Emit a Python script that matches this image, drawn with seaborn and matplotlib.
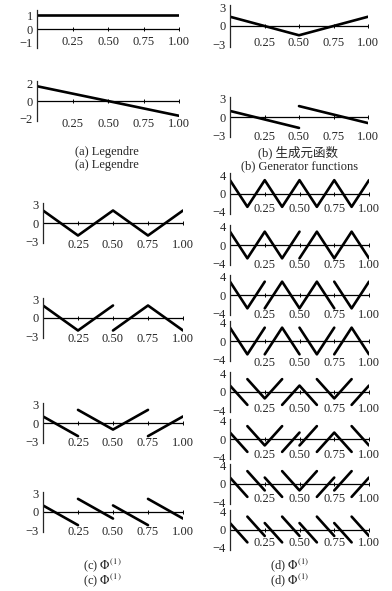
import matplotlib.pyplot as plt
import numpy as np
import pandas as pd
import seaborn as sns

sns.set_style('white')
plt.rcParams['font.family'] = ['Liberation Serif', 'Noto Sans CJK SC', 'DejaVu Sans']
plt.rcParams['mathtext.fontset'] = 'stix'
plt.rcParams['font.size'] = 9

nan = np.nan

# x tick labels shared by all panels
x_ticks = [0.25, 0.50, 0.75, 1.00]
x_ticklabels = ['0.25', '0.50', '0.75', '1.00']

# (a) Legendre
a1_x = [0, 1]
a1_y = [1, 1]
a2_x = [0, 1]
a2_y = [1.7, -1.7]

# (b) generator functions
b1_x = [0, 0.5, 1]
b1_y = [1.5, -1.5, 1.5]
b2_x = [0, 0.5, nan, 0.5, 1]
b2_y = [1.0, -1.8, nan, 1.8, -1.0]

# (c) Phi(1), level 1
c1_x = [0, 0.25, 0.5, 0.75, 1]
c1_y = [2.0, -2.0, 2.0, -2.0, 2.0]
c2_x = [0, 0.25, 0.5, nan, 0.5, 0.75, 1]
c2_y = [2.0, -2.0, 2.0, nan, -2.0, 2.0, -2.0]
c3_x = [0, 0.25, nan, 0.25, 0.5, 0.75, nan, 0.75, 1]
c3_y = [1.05, -2.1, nan, 2.1, -1.05, 2.1, nan, -2.1, 1.05]
c4_x = [0, 0.25, nan, 0.25, 0.5, nan, 0.5, 0.75, nan, 0.75, 1]
c4_y = [1.05, -2.1, nan, 2.1, -1.05, nan, 1.05, -2.1, nan, 2.1, -1.05]

# (d) Phi(1), level 2
d1_x = [0, 0.125, 0.25, 0.375, 0.5, 0.625, 0.75, 0.875, 1]
d1_y = [2.9, -2.9, 2.9, -2.9, 2.9, -2.9, 2.9, -2.9, 2.9]
d2_x = [0, 0.125, 0.25, 0.375, 0.5, nan, 0.5, 0.625, 0.75, 0.875, 1]
d2_y = [2.9, -2.9, 2.9, -2.9, 2.9, nan, -2.9, 2.9, -2.9, 2.9, -2.9]
d3_x = [0, 0.125, 0.25, nan, 0.25, 0.375, 0.5, 0.625, 0.75, nan, 0.75, 0.875, 1]
d3_y = [2.9, -2.9, 2.9, nan, -2.9, 2.9, -2.9, 2.9, -2.9, nan, 2.9, -2.9, 2.9]
d4_x = [0, 0.125, 0.25, nan, 0.25, 0.375, 0.5, nan, 0.5, 0.625, 0.75, nan, 0.75, 0.875, 1]
d4_y = [2.9, -2.9, 2.9, nan, -2.9, 2.9, -2.9, nan, 2.9, -2.9, 2.9, nan, -2.9, 2.9, -2.9]
d5_x = [0, 0.125, nan, 0.125, 0.25, 0.375, nan, 0.375, 0.5, 0.625, nan, 0.625, 0.75, 0.875, nan, 0.875, 1]
d5_y = [1.4, -2.8, nan, 2.8, -1.4, 2.8, nan, -2.8, 1.4, -2.8, nan, 2.8, -1.4, 2.8, nan, -2.8, 1.4]
d6_x = [0, 0.125, nan, 0.125, 0.25, 0.375, nan, 0.375, 0.5, nan, 0.5, 0.625, nan, 0.625, 0.75, 0.875, nan, 0.875, 1]
d6_y = [1.4, -2.8, nan, 2.8, -1.4, 2.8, nan, -2.8, 1.4, nan, -1.4, 2.8, nan, -2.8, 1.4, -2.8, nan, 2.8, -1.4]
d7_x = [0, 0.125, nan, 0.125, 0.25, nan, 0.25, 0.375, nan, 0.375, 0.5, 0.625, nan, 0.625, 0.75, nan, 0.75, 0.875, nan, 0.875, 1]
d7_y = [1.4, -2.8, nan, 2.8, -1.4, nan, 1.4, -2.8, nan, 2.8, -1.4, 2.8, nan, -2.8, 1.4, nan, -1.4, 2.8, nan, -2.8, 1.4]
d8_x = [0, 0.125, nan, 0.125, 0.25, nan, 0.25, 0.375, nan, 0.375, 0.5, nan,
        0.5, 0.625, nan, 0.625, 0.75, nan, 0.75, 0.875, nan, 0.875, 1]
d8_y = [1.4, -2.8, nan, 2.8, -1.4, nan, 1.4, -2.8, nan, 2.8, -1.4, nan,
        1.4, -2.8, nan, 2.8, -1.4, nan, 1.4, -2.8, nan, 2.8, -1.4]

W, H = 392, 591
fig = plt.figure(figsize=(W / 100, H / 100), dpi=100)


def to_frame(xs, ys):
    xs = np.asarray(xs, dtype=float)
    ys = np.asarray(ys, dtype=float)
    seg = np.cumsum(np.isnan(xs))
    df = pd.DataFrame({'x': xs, 'y': ys, 'seg': seg})
    return df.dropna()


# panel: data, left px, right px, zero-line px, half height px, ylim, yticks, label offset px
def panel(xs, ys, left, right, zero, half, ylim, yticks, lab_off):
    rect = [left / W, (H - zero - half) / H, (right - left) / W, 2 * half / H]
    ax = fig.add_axes(rect)
    df = to_frame(xs, ys)
    sns.lineplot(data=df, x='x', y='y', units='seg', estimator=None, sort=False,
                 color='black', lw=1.9, ax=ax)
    ax.axhline(0, color='black', lw=0.9, zorder=1)
    ax.plot(x_ticks, np.zeros(len(x_ticks)), ls='none', marker='|', ms=3,
            mew=0.7, color='black')
    ax.set_xlim(0, 1)
    ax.set_ylim(-ylim, ylim)
    ax.set_xticks(x_ticks)
    ax.set_xticklabels(x_ticklabels)
    ax.set_yticks(yticks)
    ax.set_yticklabels(['\u2212%d' % -t if t < 0 else '%d' % t for t in yticks])
    plt.setp(ax.get_xticklabels(), va='center')
    ax.tick_params(axis='x', length=0, pad=lab_off * 0.72, labelsize=9)
    ax.tick_params(axis='y', length=2, width=0.8, pad=1, labelsize=9)
    for s in ['top', 'right', 'bottom']:
        ax.spines[s].set_visible(False)
    ax.spines['left'].set_linewidth(0.9)
    ax.set_xlabel('')
    ax.set_ylabel('')
    ax.patch.set_alpha(0)
    return ax


# left column
panel(a1_x, a1_y, 37, 179, 29, 19, 1.36, [-1, 0, 1], -6)
panel(a2_x, a2_y, 37, 179, 101, 20, 2.3, [-2, 0, 2], 3)
panel(c1_x, c1_y, 43, 183, 223, 20, 3.2, [-3, 0, 3], 2)
panel(c2_x, c2_y, 43, 183, 318, 20, 3.2, [-3, 0, 3], 1)
panel(c3_x, c3_y, 43, 183, 423, 20, 3.2, [-3, 0, 3], 0)
panel(c4_x, c4_y, 43, 183, 512, 20, 3.2, [-3, 0, 3], 0)

# right column
panel(b1_x, b1_y, 230, 368, 26, 21, 3.4, [-3, 0, 3], -4)
panel(b2_x, b2_y, 230, 368, 117, 20, 3.3, [-3, 0, 3], 0)
d_data = [(d1_x, d1_y), (d2_x, d2_y), (d3_x, d3_y), (d4_x, d4_y),
          (d5_x, d5_y), (d6_x, d6_y), (d7_x, d7_y), (d8_x, d8_y)]
d_zero = [193.5, 245, 295, 341, 392, 439, 484, 529.5]
d_off = [-5, 0, 0, 2, -3, -4, -5, -7]
for (xs, ys), z, off in zip(d_data, d_zero, d_off):
    panel(xs, ys, 230, 369, z, 20, 4.35, [-4, 0, 4], off)

# captions
def caption(x, y, s):
    fig.text(x / W, 1 - y / H, s, ha='center', va='center', fontsize=9)

caption(107, 152, '(a) Legendre')
caption(107, 165, '(a) Legendre')
caption(298, 152, '(b) 生成元函数')
caption(300, 166, '(b) Generator functions')
caption(102, 565, r'(c) $\Phi^{(1)}$')
caption(102, 580, r'(c) $\Phi^{(1)}$')
caption(290, 565, r'(d) $\Phi^{(1)}$')
caption(290, 580, r'(d) $\Phi^{(1)}$')

fig.savefig('out.png', dpi=100)
